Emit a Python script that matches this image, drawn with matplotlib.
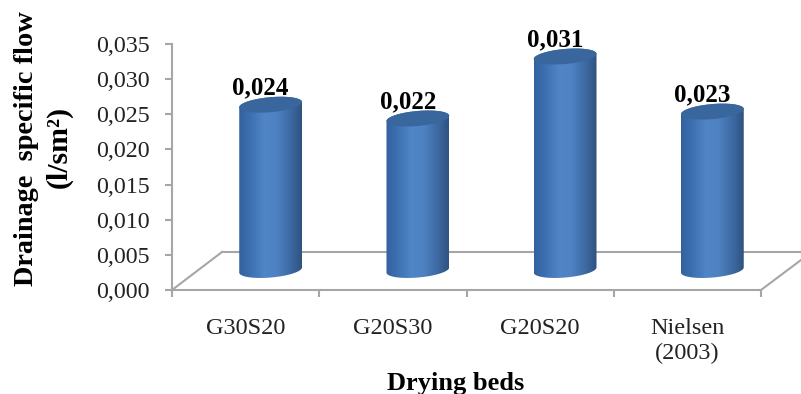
import numpy as np
import matplotlib
matplotlib.use("Agg")
import matplotlib.pyplot as plt
from matplotlib.colors import LinearSegmentedColormap
from matplotlib.patches import Polygon

categories = ["G30S20", "G20S30", "G20S20", "Nielsen\n(2003)"]
values = [0.024, 0.022, 0.031, 0.023]
value_labels = ["0,024", "0,022", "0,031", "0,023"]
y_ticks = [0, 0.005, 0.010, 0.015, 0.020, 0.025, 0.030, 0.035]
y_tick_labels = ["0,000", "0,005", "0,010", "0,015", "0,020", "0,025", "0,030", "0,035"]

W, H = 801, 394
plt.rcParams["font.family"] = ["Liberation Serif", "DejaVu Serif"]
fig = plt.figure(figsize=(W / 100, H / 100), dpi=100, facecolor="white")
ax = fig.add_axes([172 / W, 1 - 290 / H, (761 - 172) / W, (290 - 44) / H])
ax.set_xlim(-0.5, 3.5)
ax.set_ylim(0, 0.035)

GRAY = "#a6a6a6"
for s in ("top", "right"):
    ax.spines[s].set_visible(False)
for s in ("left", "bottom"):
    ax.spines[s].set_color(GRAY)
    ax.spines[s].set_linewidth(1.5)

ax.set_yticks(y_ticks, y_tick_labels, fontsize=17.3, color="#222222")
ax.set_xticks(np.arange(-0.5, 4, 1))
ax.set_xticklabels([])
ax.tick_params(axis="both", color=GRAY, width=1.5, length=5, direction="out")
ax.tick_params(axis="y", pad=11)

# pixel <-> data helpers
px_x = 4 / (761 - 172)
px_y = 0.035 / (290 - 44)

# 3-D floor
floor_kw = dict(color=GRAY, lw=1.5, clip_on=False, zorder=1)
ax.plot([-0.5, -0.5 + 50 * px_x], [0, 38 * px_y], **floor_kw)
ax.plot([-0.5 + 50 * px_x, 3.5 + 40 * px_x], [38 * px_y, 38 * px_y], **floor_kw)
ax.plot([3.5, 3.5 + 40 * px_x], [0, 30 * px_y], **floor_kw)

cmap = LinearSegmentedColormap.from_list(
    "cyl", ["#32619f", "#3f72b2", "#5085c6", "#4f82c2", "#3f6ca6", "#2f5382"])
grad = np.linspace(0, 1, 128).reshape(1, -1)

BASE = 20 * px_y
SCALE = 0.98
RX, RY, TILT = 31.5, 7.5, np.deg2rad(5)
SHIFT = 25 * px_x


def ellipse(cx, cy, t):
    ex = RX * np.cos(t)
    ey = RY * np.sin(t)
    x = ex * np.cos(TILT) - ey * np.sin(TILT)
    y = ex * np.sin(TILT) + ey * np.cos(TILT)
    return cx + x * px_x, cy + y * px_y


for i, (v, lab) in enumerate(zip(values, value_labels)):
    cx = i + SHIFT
    top = BASE + v * SCALE
    t_low = np.linspace(np.pi, 2 * np.pi, 60)
    t_up = np.linspace(0, np.pi, 60)
    bx, by = ellipse(cx, BASE, t_low)
    tx, ty = ellipse(cx, top, t_up)
    body = Polygon(np.column_stack([np.r_[bx, tx], np.r_[by, ty]]),
                   closed=True, transform=ax.transData, fc="none", ec="none")
    ax.add_patch(body)
    im = ax.imshow(grad, cmap=cmap, aspect="auto", zorder=3, interpolation="bilinear",
                   extent=[cx - RX * px_x, cx + RX * px_x, 0, 0.036])
    im.set_clip_path(body)
    fx, fy = ellipse(cx, top, np.linspace(0, 2 * np.pi, 120))
    ax.fill(fx, fy, color="#3a669e", zorder=4, lw=0, clip_on=False)
    ax.annotate(lab, (cx, top), xytext=(-7.2, 7.2), textcoords="offset points",
                ha="center", va="baseline", fontsize=18, fontweight="bold",
                color="black", zorder=5, annotation_clip=False)

ax.set_xlim(-0.5, 3.5)
ax.set_ylim(0, 0.035)

for i, c in enumerate(categories):
    ax.annotate(c, (i, 0), xytext=(0, -20.5), textcoords="offset points", ha="center",
                va="top", fontsize=17.5, color="#222222", linespacing=1.2,
                annotation_clip=False)

fig.text(456 / W, 1 - 390 / H, "Drying beds", ha="center", va="baseline",
         fontsize=19, fontweight="bold")
fig.text(33 / W, 1 - 149 / H, "Drainage  specific flow", ha="center", va="baseline",
         rotation=90, rotation_mode="anchor", fontsize=20.3, fontweight="bold")
fig.text(66 / W, 1 - 147 / H, "(l/sm²)", ha="center", va="baseline",
         rotation=90, rotation_mode="anchor", fontsize=21.5, fontweight="bold")

fig.savefig("out.png", dpi=100, facecolor="white")
